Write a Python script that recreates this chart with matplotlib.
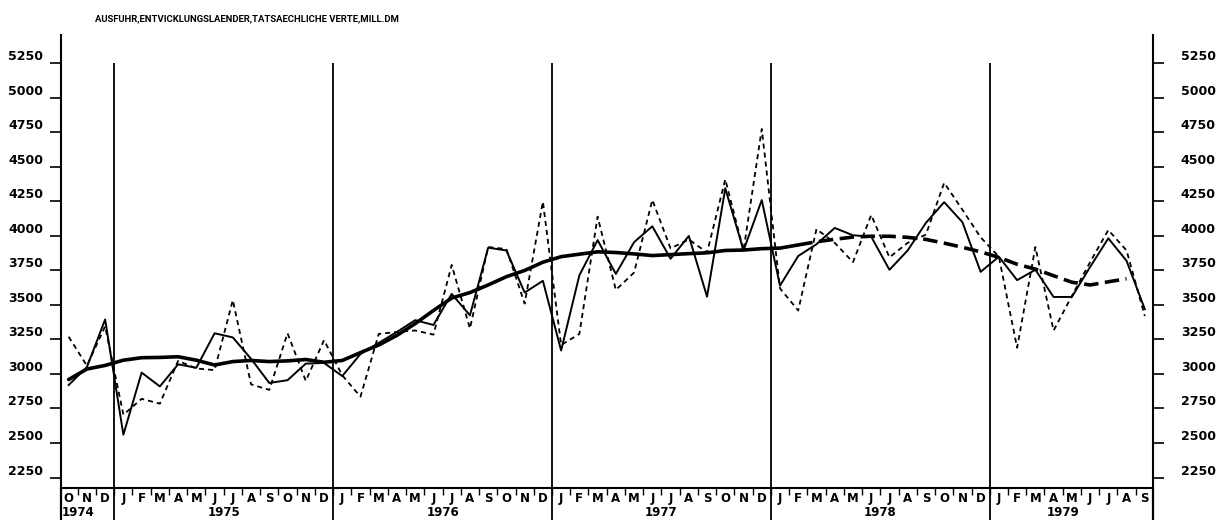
import matplotlib
matplotlib.use("Agg")
import matplotlib.pyplot as plt

plt.rcParams["font.family"] = "DejaVu Sans"
plt.rcParams["font.weight"] = "bold"

# Monate Okt 1974 bis Sep 1979
months = ["O", "N", "D"] + ["J", "F", "M", "A", "M", "J", "J", "A", "S", "O", "N", "D"] * 4 \
         + ["J", "F", "M", "A", "M", "J", "J", "A", "S"]
years = ["1974", "1975", "1976", "1977", "1978", "1979"]
year_start = [0, 3, 15, 27, 39, 51]
year_len = [3, 12, 12, 12, 12, 8]

# tatsaechliche Werte (gestrichelt)
actual = [3270, 3060, 3345,
          2705, 2820, 2785, 3095, 3040, 3028, 3535, 2925, 2885, 3295, 2950, 3245,
          2990, 2836, 3290, 3305, 3315, 3285, 3790, 3330, 3920, 3905, 3510, 4249,
          3210, 3290, 4140, 3609, 3735, 4261, 3910, 3975, 3880, 4410, 3895, 4775,
          3620, 3460, 4050, 3950, 3810, 4152, 3845, 3950, 4010, 4385, 4190, 3990,
          3850, 3190, 3920, 3315, 3565, 3810, 4043, 3895, 3420]
# saisonbereinigte Werte (duenn)
adjusted = [2920, 3050, 3395,
            2560, 3010, 2910, 3070, 3045, 3295, 3265, 3110, 2935, 2955, 3075, 3080,
            2985, 3145, 3225, 3305, 3390, 3355, 3580, 3425, 3915, 3895, 3590, 3675,
            3170, 3715, 3970, 3725, 3955, 4070, 3835, 4000, 3560, 4345, 3895, 4260,
            3640, 3855, 3940, 4058, 4005, 3995, 3755, 3895, 4095, 4245, 4100, 3740,
            3850, 3680, 3755, 3558, 3558, 3775, 3983, 3820, 3470]
# Trend (dick), ab Anfang 1978 gestrichelt
trend = [2960, 3036, 3062,
         3100, 3118, 3120, 3125, 3100, 3065, 3090, 3098, 3090, 3095, 3105, 3085,
         3098, 3155, 3210, 3280, 3365, 3460, 3550, 3590, 3645, 3705, 3750, 3810,
         3850, 3868, 3885, 3880, 3870, 3858, 3865, 3872, 3878, 3895, 3898, 3908,
         3912, 3935, 3958, 3976, 3992, 3998, 3998, 3990, 3975, 3948, 3918, 3885,
         3845, 3795, 3760, 3712, 3665, 3645, 3668, 3690]
trend_break = 40

yticks = list(range(2250, 5251, 250))
title = "AUSFUHR,ENTVICKLUNGSLAENDER,TATSAECHLICHE VERTE,MILL.DM"

x = list(range(len(months)))

fig = plt.figure(figsize=(12.23, 5.24), dpi=100)
ax = fig.add_axes([61 / 1223, 36 / 524, (1153 - 61) / 1223, 453 / 524])
x0, x1 = -0.42, 59.45
y0, y1 = 2174, 5456
ax.set_xlim(x0, x1)
ax.set_ylim(y0, y1)

ax.plot(x, actual, color="black", lw=1.3, ls=(0, (2.8, 2.2)))
ax.plot(x, adjusted, color="black", lw=1.4)
ax.plot(x[:trend_break + 1], trend[:trend_break + 1], color="black", lw=2.6,
        solid_capstyle="round")
ax.plot(x[trend_break:len(trend)], trend[trend_break:], color="black", lw=2.6,
        ls=(0, (4, 1.8)))

# Jahrestrennlinien
bounds = [s - 0.5 for s in year_start[1:]]
ax.vlines(bounds, 1940, 5250, colors="black", lw=1.3, clip_on=False)
ax.vlines([x0, x1], 1940, y0, colors="black", lw=1.6, clip_on=False)

ax.spines["top"].set_visible(False)
for side in ["left", "right", "bottom"]:
    ax.spines[side].set_linewidth(1.5)

# Monate
ax.set_xticks(x, months)
ax.set_xticks([i - 0.5 for i in range(1, len(months))], minor=True)
ax.tick_params(axis="x", which="major", length=0, pad=3, labelsize=8.5)
ax.tick_params(axis="x", which="minor", length=5, width=1.0, direction="out")

for yr, s, n in zip(years, year_start, year_len):
    if yr == "1974":
        ax.text(x0 + 0.05, -0.053, yr, transform=ax.get_xaxis_transform(),
                ha="left", va="center", fontsize=8.5)
    else:
        ax.text(s + (n - 1) / 2, -0.053, yr, transform=ax.get_xaxis_transform(),
                ha="center", va="center", fontsize=8.5)

# y-Achsen links und rechts
ax.set_yticks(yticks, [str(v) for v in yticks], va="bottom")
ax.tick_params(axis="y", direction="out", length=8, width=1.2, pad=5, labelsize=9,
               left=True, right=False)
ax2 = ax.twinx()
ax2.set_ylim(y0, y1)
ax2.set_yticks(yticks, [str(v) for v in yticks], va="bottom")
ax2.tick_params(axis="y", direction="out", length=8, width=1.2, pad=12, labelsize=9)
for side in ["top", "bottom", "left", "right"]:
    ax2.spines[side].set_visible(False)

fig.text(95 / 1223, 1 - 19 / 524, title, ha="left", va="center",
         fontsize=6.8, family=["Roboto", "DejaVu Sans"], weight="bold")

fig.savefig("out.png", dpi=100)
